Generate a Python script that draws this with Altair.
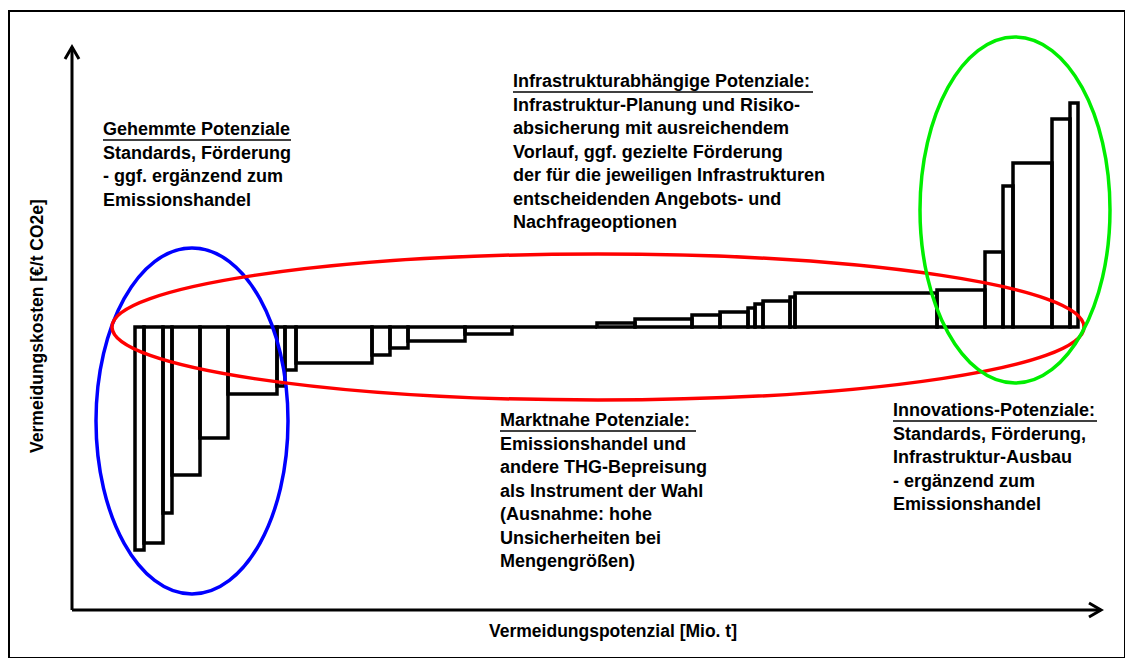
import altair as alt
import pandas as pd

# --- data (arbitrary units: Mio. t / €/t CO2e) ---
first_start = 63
widths = [9, 19, 9, 28, 28, 49, 8, 11, 76, 18, 18, 57, 47, 85, 38, 57, 28, 28, 7, 8, 27, 5, 142, 48, 18, 10, 39, 18, 8]
costs = [-223, -216, -186, -148, -111, -67, -59, -43, -36, -28, -21, -14, -7, 0, 4, 8, 12, 15, 19, 23, 26, 30, 34, 37, 75, 141, 164, 208, 224]

block_titles = ["Gehemmte Potenziale", "Infrastrukturabhängige Potenziale:", "Marktnahe Potenziale:", "Innovations-Potenziale:"]
block_bodies = [
    ["Standards, Förderung", "- ggf. ergänzend zum", "Emissionshandel"],
    ["Infrastruktur-Planung und Risiko-", "absicherung mit ausreichendem", "Vorlauf, ggf. gezielte Förderung",
     "der für die jeweiligen Infrastrukturen", "entscheidenden Angebots- und", "Nachfrageoptionen"],
    ["Emissionshandel und", "andere THG-Bepreisung", "als Instrument der Wahl", "(Ausnahme: hohe",
     "Unsicherheiten bei", "Mengengrößen)"],
    ["Standards, Förderung,", "Infrastruktur-Ausbau", "- ergänzend zum", "Emissionshandel"],
]
block_x = [31, 441, 428, 821]
block_y = [206, 254, -85, -75]
underline_len = [188, 300, 196, 204]

x_title = "Vermeidungspotenzial [Mio. t]"
y_title = "Vermeidungskosten [€/t CO2e]"

# ellipses: centre x, centre y, half width, half height, colour
ell_cx = [120, 526, 943]
ell_cy = [-94, 0, 117]
ell_rx = [96, 486, 95]
ell_ry = [173, 73, 173]
ell_col = ["#0000ff", "#ff0000", "#00ee00"]

# --- build tables ---
x0s, x1s = [], []
cur = first_start
for w in widths:
    x0s.append(cur)
    cur += w
    x1s.append(cur)
bars = pd.DataFrame({"x0": x0s, "x1": x1s, "cost": costs, "zero": [0] * len(costs)})

xs = alt.Scale(domain=[-63, 1053], nice=False, zero=False)
ys = alt.Scale(domain=[-331, 316], nice=False, zero=False)
FONT = "Liberation Sans"

def X(f="x"):
    return alt.X(f, type="quantitative", scale=xs, axis=None)

def Y(f="y"):
    return alt.Y(f, type="quantitative", scale=ys, axis=None)

layers = []

# bars
layers.append(
    alt.Chart(bars).mark_rect(fill="white", fillOpacity=0, stroke="black", strokeWidth=3.5).encode(
        x=X("x0"), x2="x1", y=Y("cost"), y2="zero"
    )
)

# axes lines
axes_df = pd.DataFrame({"x": [0, 0], "y": [-283, -283], "x2": [0, 1029], "y2": [280, -283]})
layers.append(
    alt.Chart(axes_df).mark_rule(color="black", strokeWidth=3).encode(
        x=X("x"), y=Y("y"), x2="x2", y2="y2"
    )
)
# arrow heads
up = alt.Chart(pd.DataFrame({"x": [0], "y": [280]})).mark_point(
    shape="M -7 12 L 0 0 L 7 12", size=4, filled=False, stroke="black", strokeWidth=3, opacity=1
).encode(x=X(), y=Y())
right = alt.Chart(pd.DataFrame({"x": [1029], "y": [-283]})).mark_point(
    shape="M -12 -7 L 0 0 L -12 7", size=4, filled=False, stroke="black", strokeWidth=3, opacity=1
).encode(x=X(), y=Y())
layers += [up, right]

# ellipses
for cx, cy, rx, ry, col in zip(ell_cx, ell_cy, ell_rx, ell_ry, ell_col):
    path = f"M {-rx} 0 A {rx} {ry} 0 1 0 {rx} 0 A {rx} {ry} 0 1 0 {-rx} 0 Z"
    layers.append(
        alt.Chart(pd.DataFrame({"x": [cx], "y": [cy]})).mark_point(
            shape=path, size=4, filled=False, stroke=col, strokeWidth=3.5, opacity=1
        ).encode(x=X(), y=Y())
    )

# text blocks
LH = 23.5
txt = pd.DataFrame({
    "x": block_x,
    "y": block_y,
    "t": ["\n".join([t] + b) for t, b in zip(block_titles, block_bodies)],
})
layers.append(
    alt.Chart(txt).mark_text(
        align="left", baseline="top", font=FONT, fontSize=18, fontWeight="bold",
        lineBreak="\n", lineHeight=LH, color="black"
    ).encode(x=X(), y=Y(), text="t:N")
)
ul = pd.DataFrame({
    "x": block_x,
    "x2": [a + b for a, b in zip(block_x, underline_len)],
    "y": [v - 19 for v in block_y],
})
layers.append(
    alt.Chart(ul).mark_rule(color="black", strokeWidth=1.5).encode(x=X(), x2="x2", y=Y())
)

# axis titles
layers.append(
    alt.Chart(pd.DataFrame({"x": [541], "y": [-305], "t": [x_title]})).mark_text(
        font=FONT, fontSize=17.5, fontWeight="bold", color="black"
    ).encode(x=X(), y=Y(), text="t:N")
)
layers.append(
    alt.Chart(pd.DataFrame({"x": [-34], "y": [1], "t": [y_title]})).mark_text(
        font=FONT, fontSize=17.5, fontWeight="bold", color="black", angle=270
    ).encode(x=X(), y=Y(), text="t:N")
)

chart = alt.layer(*layers).properties(
    width=1116, height=647,
    padding={"left": 1, "top": 3, "right": 0, "bottom": 0},
    background="white",
).configure_view(stroke="black", strokeWidth=2)

chart.save("out.html", embed_options={"renderer": "svg", "actions": False})
